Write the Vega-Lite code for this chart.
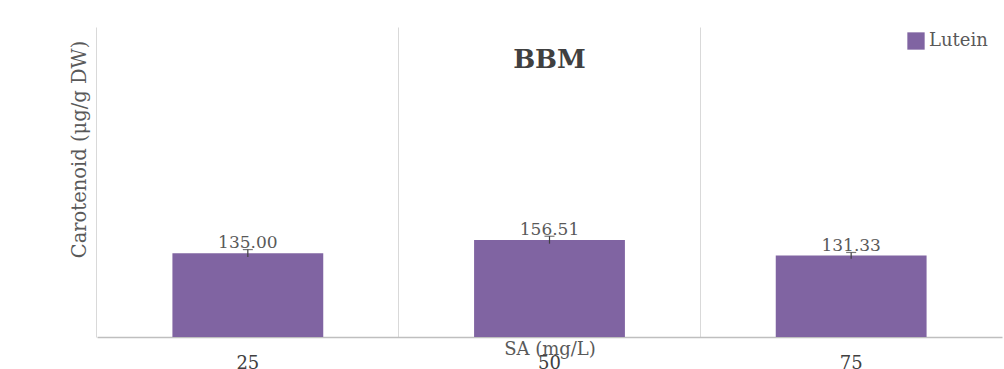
{
  "$schema": "https://vega.github.io/schema/vega-lite/v6.json",
  "width": 905,
  "height": 310,
  "autosize": {"type": "none"},
  "padding": {"left": 97, "top": 27, "right": 2, "bottom": 32},
  "background": "white",
  "config": {
    "view": {"stroke": null},
    "font": "DejaVu Serif"
  },
  "title": {
    "text": "BBM",
    "fontSize": 26,
    "fontWeight": "bold",
    "color": "#404040",
    "font": "DejaVu Serif",
    "offset": -46,
    "anchor": "middle"
  },
  "data": {
    "values": [
      {"SA": "25", "value": 135.00, "err": 6, "series": "Lutein"},
      {"SA": "50", "value": 156.51, "err": 6, "series": "Lutein"},
      {"SA": "75", "value": 131.33, "err": 5, "series": "Lutein"}
    ]
  },
  "encoding": {
    "x": {
      "field": "SA",
      "type": "nominal",
      "sort": null,
      "scale": {"paddingInner": 0.5, "paddingOuter": 0.25},
      "axis": {
        "title": "SA (mg/L)",
        "titleFont": "DejaVu Serif",
        "titleFontSize": 18,
        "titleFontWeight": "normal",
        "titleColor": "#595959",
        "titleY": 3,
        "titleBaseline": "top",
        "labelAngle": 0,
        "labelFontSize": 18,
        "labelColor": "#404040",
        "labelPadding": 17,
        "labelBaseline": "top",
        "ticks": false,
        "grid": true,
        "gridColor": "#d9d9d9",
        "gridWidth": 1,
        "bandPosition": -0.5,
        "domainColor": "#bfbfbf",
        "domainWidth": 1.5
      }
    }
  },
  "layer": [
    {
      "mark": {"type": "bar"},
      "encoding": {
        "y": {
          "field": "value",
          "type": "quantitative",
          "scale": {"domain": [0, 500], "nice": false},
          "axis": {
            "title": "Carotenoid (μg/g DW)",
            "titleFont": "DejaVu Serif",
            "titleFontSize": 19.5,
            "titleFontWeight": "normal",
            "titleColor": "#595959",
            "titlePadding": 8,
            "titleY": 122,
            "labels": false,
            "ticks": false,
            "domain": false,
            "grid": false
          }
        },
        "color": {
          "field": "series",
          "type": "nominal",
          "scale": {"range": ["#8064A2"]},
          "legend": {
            "title": null,
            "orient": "none",
            "legendX": 810,
            "legendY": 5,
            "symbolType": "square",
            "symbolSize": 300,
            "symbolStrokeWidth": 0,
            "labelFontSize": 18,
            "labelColor": "#595959",
            "labelFont": "DejaVu Serif"
          }
        }
      }
    },
    {
      "mark": {"type": "rule", "color": "#404040", "strokeWidth": 1.2},
      "encoding": {
        "y": {"field": "lo", "type": "quantitative"},
        "y2": {"field": "hi"}
      },
      "transform": [
        {"calculate": "datum.value - datum.err", "as": "lo"},
        {"calculate": "datum.value + datum.err", "as": "hi"}
      ]
    },
    {
      "mark": {"type": "tick", "color": "#404040", "size": 10, "thickness": 1.2},
      "transform": [
        {"calculate": "datum.value + datum.err", "as": "hi"}
      ],
      "encoding": {
        "y": {"field": "hi", "type": "quantitative"}
      }
    },
    {
      "mark": {"type": "text", "baseline": "bottom", "dy": -1, "fontSize": 17, "color": "#595959", "font": "DejaVu Serif"},
      "encoding": {
        "y": {"field": "value", "type": "quantitative"},
        "text": {"field": "value", "type": "quantitative", "format": ".2f"}
      }
    }
  ]
}
